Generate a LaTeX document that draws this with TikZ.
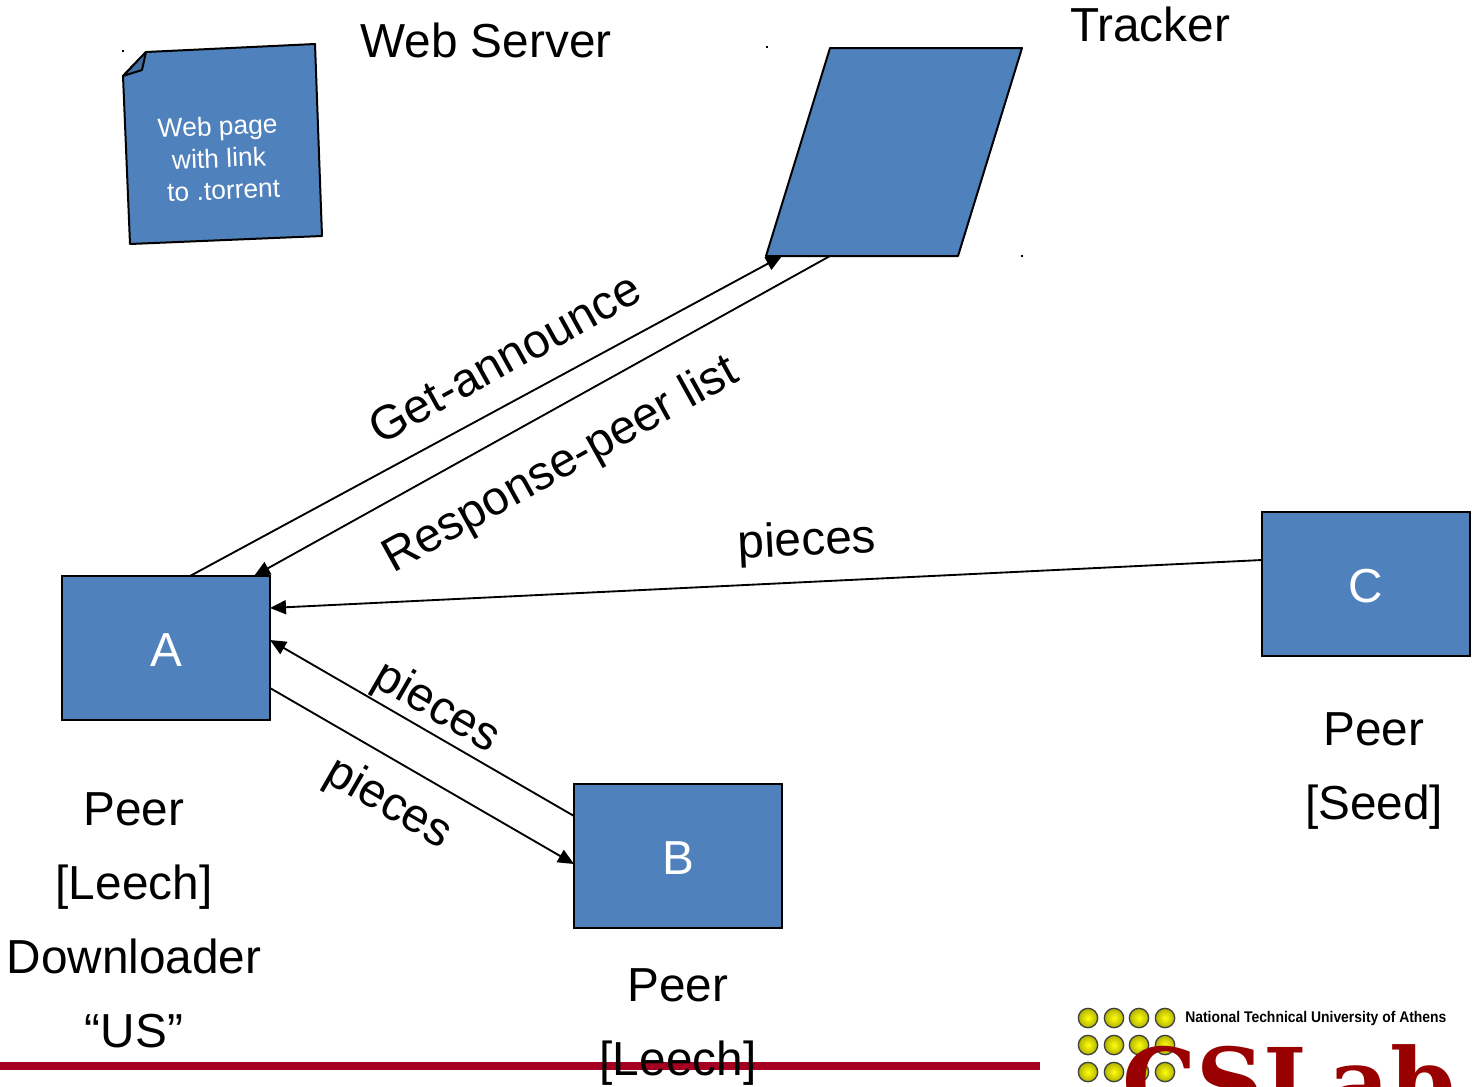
\documentclass[tikz,border=0pt]{standalone}
\usepackage{fontspec}
\setmainfont{Liberation Sans}
\newfontfamily\logoslab{DejaVu Serif}
\usetikzlibrary{arrows.meta,backgrounds}
\definecolor{boxblue}{HTML}{4F81BD}
\definecolor{barred}{HTML}{A50021}
\definecolor{logored}{HTML}{990000}
\newcommand{\boxlabel}[1]{\raisebox{-1.8pt}[\height][\depth]{#1}}
\tikzset{
  x=0.75pt,y=-0.75pt,
  peerbox/.style={draw=black,fill=boxblue,line width=1.5pt,outer sep=0pt,inner sep=0pt,minimum width=156pt,minimum height=108pt,text=white,font=\fontsize{35.8}{42}\selectfont},
  shapeline/.style={draw=black,fill=boxblue,line width=1.5pt,line join=round},
  bigtext/.style={inner sep=0pt,font=\fontsize{35.8}{55.5}\selectfont,align=center,text=black},
  link/.style={draw=black,line width=1.4pt,-{Triangle[length=12pt,width=10.5pt]}},
  ball/.style={circle,draw=black!75,line width=1pt,inner sep=0pt,minimum size=14.5pt,inner color=yellow!95!white,outer color=yellow!70!black},
  speck/.style={fill=black,inner sep=0pt,minimum size=1pt}
}
\begin{document}
\begin{tikzpicture}
\useasboundingbox (0,0) rectangle (1473,1086);
% boxes
\node[peerbox] (A) at (166,648) {\boxlabel{A}};
\node[peerbox] (B) at (678,856) {\boxlabel{B}};
\node[peerbox] (C) at (1366,584) {\boxlabel{C}};
% tracker
\coordinate (Ttl) at (830,48);
\coordinate (Ttr) at (1022,48);
\coordinate (Tbr) at (958,256);
\coordinate (Tbl) at (766,256);
\draw[shapeline] (Ttl) -- (Ttr) -- (Tbr) -- (Tbl) -- cycle;
% web page note
\draw[shapeline] (146,52) -- (315,44) -- (322,236) -- (130,244) -- (123,76) -- cycle;
\draw[shapeline,fill=boxblue!85!black] (146,52) -- (142,70) -- (123,76) -- cycle;
\node[rotate=2.4,text=white,inner sep=0pt,align=center,font=\fontsize{19.8}{24}\selectfont] (note) at (219,158) {Web page\\with link\\\hspace*{5pt}to .torrent};
% specks
\node[speck] (s1) at (123,51) {};
\node[speck] (s2) at (767,47) {};
\node[speck] (s3) at (1022,256) {};
% labels
\node[bigtext] (ws) at (486,40) {Web Server};
\node[bigtext] (tr) at (1150,24) {Tracker};
\node[bigtext,rotate=29] (ga) at (504.5,358) {Get-announce};
\node[bigtext,rotate=29] (rp) at (561.5,466) {Response-peer list};
\node[bigtext,rotate=2.8] (p1) at (807,543) {pieces};
\node[bigtext,rotate=-30] (p2) at (436,708) {pieces};
\node[bigtext,rotate=-30] (p3) at (388,804) {pieces};
\node[bigtext,anchor=north] (la) at (134,792) {Peer\\{[Leech]}\\Downloader\\“US”};
\node[bigtext,anchor=north] (lb) at (678,968) {Peer\\{[Leech]}};
\node[bigtext,anchor=north] (lc) at (1374,712) {Peer\\{[Seed]}};
\begin{pgfonlayer}{background}
\fill[barred] (0,1062) rectangle (1040,1070);
\draw[link] ([xshift=18pt]A.north) -- ([xshift=12pt]Tbl);
\draw[link] ([xshift=48pt]Tbl) -- ([xshift=66pt]A.north);
\draw[link] ([yshift=18pt]C.west) -- ([yshift=30pt]A.east);
\draw[link] ([yshift=30pt]B.west) -- ([yshift=6pt]A.east);
\draw[link] ([yshift=-30pt]A.east) -- ([yshift=-6pt]B.west);
\end{pgfonlayer}
% logo
\foreach \i/\px in {1/1088,2/1114,3/1139,4/1165}
  \foreach \j/\py in {1/1018,2/1045,3/1072}
    \node[ball] (b\i\j) at (\px,\py) {};
\node[anchor=west,inner sep=0pt,xscale=0.9,font=\fontsize{11.6}{14}\bfseries\selectfont] (ntua) at (1185,1018) {National Technical University of Athens};
\begin{scope}
\clip (1040,1000) rectangle (1473,1086);
\node[anchor=base west,inner sep=0pt,text=logored,font=\fontsize{70}{80}\bfseries\logoslab\selectfont] (cslab) at (1122,1115) {CSLab};
\end{scope}
\end{tikzpicture}
\end{document}
